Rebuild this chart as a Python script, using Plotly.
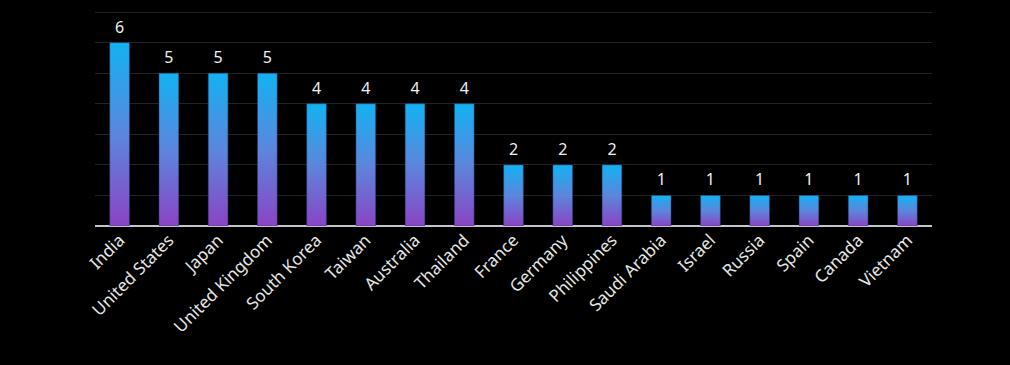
import plotly.graph_objects as go

countries = ["India", "United States", "Japan", "United Kingdom", "South Korea", "Taiwan",
             "Australia", "Thailand", "France", "Germany", "Philippines", "Saudi Arabia",
             "Israel", "Russia", "Spain", "Canada", "Vietnam"]
values = [6, 5, 5, 5, 4, 4, 4, 4, 2, 2, 2, 1, 1, 1, 1, 1, 1]

BAR_W = 0.4
FONT = "Noto Sans"

fig = go.Figure()
for i, v in enumerate(values):
    x0, x1 = i - BAR_W / 2, i + BAR_W / 2
    fig.add_trace(go.Scatter(
        x=[x0, x1, x1, x0, x0], y=[0, 0, v, v, 0],
        mode="lines", line=dict(width=0.6, color="rgba(40,60,110,0.8)"),
        fill="toself",
        fillgradient=dict(type="vertical",
                          colorscale=[[0, "#8a44c4"], [0.5, "#5c86dc"], [1, "#12b2f2"]]),
        hoverinfo="skip", showlegend=False,
    ))

fig.add_trace(go.Scatter(
    x=list(range(len(values))), y=values, mode="markers+text",
    marker=dict(size=8, color="rgba(0,0,0,0)"),
    text=[str(v) for v in values], textposition="top center",
    textfont=dict(family=FONT, size=16, color="#f0f0f0"),
    showlegend=False, hoverinfo="skip",
))

fig.update_layout(
    width=1010, height=365,
    paper_bgcolor="#000000", plot_bgcolor="#000000",
    margin=dict(l=95, r=78, t=10, b=139),
    font=dict(family=FONT, color="#e6e6e6"),
    xaxis=dict(
        range=[-0.5, len(values) - 0.5],
        tickmode="array", tickvals=list(range(len(values))), ticktext=countries,
        tickangle=-45, tickfont=dict(size=17, color="#e6e6e6"),
        showgrid=False, zeroline=False, showline=False, ticks="",
    ),
    yaxis=dict(
        range=[0, 7.07], dtick=1, showticklabels=False,
        gridcolor="#1e2328", gridwidth=1, zeroline=True,
        zerolinecolor="#c4c4cc", zerolinewidth=2, showline=False,
    ),
)

fig.write_html("out.html", config={"displayModeBar": False},
               post_script="document.body.style.margin='0';document.body.style.background='#000';")
